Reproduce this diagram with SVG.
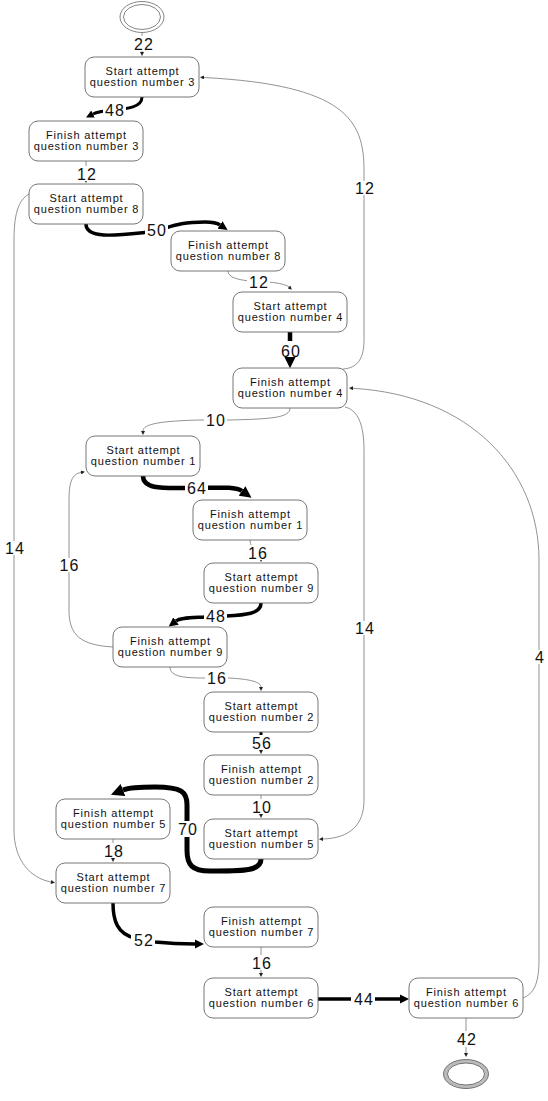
<svg xmlns="http://www.w3.org/2000/svg" width="548" height="1101" viewBox="0 0 548 1101">
<style>
.n rect{fill:#fff;stroke:#666;stroke-width:0.9}
.n text{font-family:"Liberation Sans",Arial,sans-serif;font-size:11px;letter-spacing:0.85px;text-anchor:middle;fill:#111}
#edges path{fill:none}
.thin{stroke:#777;stroke-width:0.8;marker-end:url(#at)}
.thick{stroke:#000;marker-end:url(#ak)}
.lbl{font-family:"Liberation Sans",Arial,sans-serif;font-size:16px;letter-spacing:1px;text-anchor:middle;fill:#111}
.bg{fill:#fff}
</style>
<defs>
<marker id="at" viewBox="0 0 10 10" refX="0" refY="5" markerWidth="6" markerHeight="5" orient="auto" markerUnits="strokeWidth"><path d="M0,0 L10,5 L0,10 z" fill="#222"/></marker>
<marker id="ak" viewBox="0 0 10 10" refX="0" refY="5" markerWidth="2.6" markerHeight="2.6" orient="auto" markerUnits="strokeWidth"><path d="M0,0 L10,5 L0,10 z" fill="#000"/></marker>
</defs>
<rect width="548" height="1101" fill="#fff"/>

<g id="edges">
<g><path class="thin" d="M142,33 L142,52"/><rect class="bg" x="132" y="36" width="23" height="15"/><text class="lbl" x="144" y="49.5">22</text></g>
<g><path class="thick" style="stroke-width:3" d="M142,97 C142,107 128,109 112,110 C102,111 97,112 93,114"/><rect class="bg" x="103" y="104" width="23" height="13"/><text class="lbl" x="115" y="116">48</text></g>
<g><path class="thin" d="M86,161 L86,179"/><rect class="bg" x="75" y="166" width="23" height="15"/><text class="lbl" x="87" y="179.5">12</text></g>
<g><path class="thick" style="stroke-width:3.5" d="M86,224 C86,240 120,235 150,232 C170,228 175,222 205,222 C213,222 217,223 220,225"/><rect class="bg" x="145" y="224" width="23" height="13"/><text class="lbl" x="157" y="236">50</text></g>
<g><path class="thin" d="M228,271 C228,278 240,280 250,281 L268,282 C280,283 287,285 289,287"/><rect class="bg" x="247" y="276" width="23" height="13"/><text class="lbl" x="259" y="288">12</text></g>
<g><path class="thick" style="stroke-width:4.5" d="M290,332 L290,356.5"/><rect class="bg" x="278" y="341" width="24" height="16"/><text class="lbl" x="291" y="357">60</text></g>
<g><path class="thin" d="M343,369 C358,368 364,358 364,340 L364,170 C364,120 345,85 204,77.5"/><rect class="bg" x="353" y="181" width="23" height="14"/><text class="lbl" x="365" y="194">12</text></g>
<g><path class="thin" d="M290,408 C290,418 270,419 230,420 L200,420 C160,421 143,424 143,431"/><rect class="bg" x="204" y="414" width="23" height="13"/><text class="lbl" x="216" y="426">10</text></g>
<g><path class="thin" d="M345,407 C358,410 364,425 364,450 L364,800 C364,825 350,838 323,839"/><rect class="bg" x="353" y="621" width="23" height="14"/><text class="lbl" x="365" y="634">14</text></g>
<g><path class="thick" style="stroke-width:4.5" d="M143,476 C143,490 165,488 190,488 C215,488 235,486 242,491"/><rect class="bg" x="185" y="482" width="23" height="13"/><text class="lbl" x="197" y="494">64</text></g>
<g><path class="thin" d="M250,540 C250,550 261,552 261,558"/><rect class="bg" x="246" y="545" width="23" height="15"/><text class="lbl" x="258" y="558.5">16</text></g>
<g><path class="thick" style="stroke-width:3.5" d="M261,603 C261,614 245,615 226,616 L205,617 C188,618 180,618 176,621"/><rect class="bg" x="204" y="610" width="23" height="13"/><text class="lbl" x="216" y="622">48</text></g>
<g><path class="thin" d="M113,647 C80,645 69,635 69,610 L69,500 C69,482 72,474 81,472.5"/><rect class="bg" x="57" y="558" width="23" height="14"/><text class="lbl" x="69.5" y="571">16</text></g>
<g><path class="thin" d="M170,667 C170,677 185,678 205,678 L228,678 C250,679 261,682 261,687"/><rect class="bg" x="205" y="672" width="23" height="13"/><text class="lbl" x="217" y="684">16</text></g>
<g><path class="thick" style="stroke-width:3" d="M261,732 L261,738"/><path class="thin" d="M261,738 L261,750"/><rect class="bg" x="249" y="735" width="24" height="15"/><text class="lbl" x="262" y="748.5">56</text></g>
<g><path class="thin" d="M261,795 L261,814"/><rect class="bg" x="250" y="799" width="23" height="15"/><text class="lbl" x="262" y="812.5">10</text></g>
<g><path class="thick" style="stroke-width:5" d="M261,859 C261,872 240,871 210,871 C192,871 187,865 187,850 L187,805 C187,792 182,787 155,787 C137,787 128,788 123,790"/><rect class="bg" x="176" y="821" width="23" height="16"/><text class="lbl" x="188" y="835">70</text></g>
<g><path class="thin" d="M113,839 L113,858"/><rect class="bg" x="102" y="843" width="23" height="15"/><text class="lbl" x="114" y="856.5">18</text></g>
<g><path class="thin" d="M31,193 C20,198 14,210 14,240 L14,830 C14,860 30,878 51,882"/><rect class="bg" x="3" y="541" width="23" height="14"/><text class="lbl" x="15" y="554">14</text></g>
<g><path class="thick" style="stroke-width:3.5" d="M113,903 C113,920 117,934 135,938 L155,942 C175,944 185,944 195,944"/><rect class="bg" x="131" y="933" width="24" height="13"/><text class="lbl" x="144" y="946">52</text></g>
<g><path class="thin" d="M261,947 L261,973"/><rect class="bg" x="250" y="955" width="23" height="15"/><text class="lbl" x="262" y="968.5">16</text></g>
<g><path class="thick" style="stroke-width:3.5" d="M318,999 L400,999"/><rect class="bg" x="351" y="992" width="24" height="14"/><text class="lbl" x="364" y="1005">44</text></g>
<g><path class="thin" d="M523,998 C533,994 539,985 539,960 L539,560 C539,470 470,395 353,388.3"/><rect class="bg" x="533" y="650" width="13" height="14"/><text class="lbl" x="540" y="663">4</text></g>
<g><path class="thin" d="M466,1018 L466,1053"/><rect class="bg" x="454" y="1031" width="24" height="16"/><text class="lbl" x="467" y="1045">42</text></g>
</g>

<g id="n-start"><ellipse cx="142" cy="17" rx="22" ry="15.5" fill="#fff" stroke="#777" stroke-width="0.9"/><ellipse cx="142" cy="17" rx="18.5" ry="12.5" fill="#fff" stroke="#777" stroke-width="0.9"/></g>
<g id="n-start3" class="n"><rect x="85" y="57" width="114" height="40" rx="9"/><text x="142.5" y="75">Start attempt</text><text x="142.5" y="86">question number 3</text></g>
<g id="n-finish3" class="n"><rect x="29" y="121" width="114" height="40" rx="9"/><text x="86.5" y="139">Finish attempt</text><text x="86.5" y="150">question number 3</text></g>
<g id="n-start8" class="n"><rect x="29" y="184" width="114" height="40" rx="9"/><text x="86.5" y="202">Start attempt</text><text x="86.5" y="213">question number 8</text></g>
<g id="n-finish8" class="n"><rect x="171" y="231" width="114" height="40" rx="9"/><text x="228.5" y="249">Finish attempt</text><text x="228.5" y="260">question number 8</text></g>
<g id="n-start4" class="n"><rect x="233" y="292" width="114" height="40" rx="9"/><text x="290.5" y="310">Start attempt</text><text x="290.5" y="321">question number 4</text></g>
<g id="n-finish4" class="n"><rect x="233" y="368" width="114" height="40" rx="9"/><text x="290.5" y="386">Finish attempt</text><text x="290.5" y="397">question number 4</text></g>
<g id="n-start1" class="n"><rect x="86" y="436" width="114" height="40" rx="9"/><text x="143.5" y="454">Start attempt</text><text x="143.5" y="465">question number 1</text></g>
<g id="n-finish1" class="n"><rect x="193" y="500" width="114" height="40" rx="9"/><text x="250.5" y="518">Finish attempt</text><text x="250.5" y="529">question number 1</text></g>
<g id="n-start9" class="n"><rect x="204" y="563" width="114" height="40" rx="9"/><text x="261.5" y="581">Start attempt</text><text x="261.5" y="592">question number 9</text></g>
<g id="n-finish9" class="n"><rect x="113" y="627" width="114" height="40" rx="9"/><text x="170.5" y="645">Finish attempt</text><text x="170.5" y="656">question number 9</text></g>
<g id="n-start2" class="n"><rect x="204" y="692" width="114" height="40" rx="9"/><text x="261.5" y="710">Start attempt</text><text x="261.5" y="721">question number 2</text></g>
<g id="n-finish2" class="n"><rect x="204" y="755" width="114" height="40" rx="9"/><text x="261.5" y="773">Finish attempt</text><text x="261.5" y="784">question number 2</text></g>
<g id="n-start5" class="n"><rect x="204" y="819" width="114" height="40" rx="9"/><text x="261.5" y="837">Start attempt</text><text x="261.5" y="848">question number 5</text></g>
<g id="n-finish5" class="n"><rect x="56" y="799" width="114" height="40" rx="9"/><text x="113.5" y="817">Finish attempt</text><text x="113.5" y="828">question number 5</text></g>
<g id="n-start7" class="n"><rect x="56" y="863" width="114" height="40" rx="9"/><text x="113.5" y="881">Start attempt</text><text x="113.5" y="892">question number 7</text></g>
<g id="n-finish7" class="n"><rect x="204" y="907" width="114" height="40" rx="9"/><text x="261.5" y="925">Finish attempt</text><text x="261.5" y="936">question number 7</text></g>
<g id="n-start6" class="n"><rect x="204" y="978" width="114" height="40" rx="9"/><text x="261.5" y="996">Start attempt</text><text x="261.5" y="1007">question number 6</text></g>
<g id="n-finish6" class="n"><rect x="409" y="978" width="114" height="40" rx="9"/><text x="466.5" y="996">Finish attempt</text><text x="466.5" y="1007">question number 6</text></g>
<g id="n-end"><ellipse cx="466" cy="1074" rx="22.5" ry="14.5" fill="#bbb" stroke="#666" stroke-width="0.9"/><ellipse cx="466" cy="1074" rx="18.5" ry="11" fill="#fff" stroke="#666" stroke-width="0.9"/></g>
</svg>
